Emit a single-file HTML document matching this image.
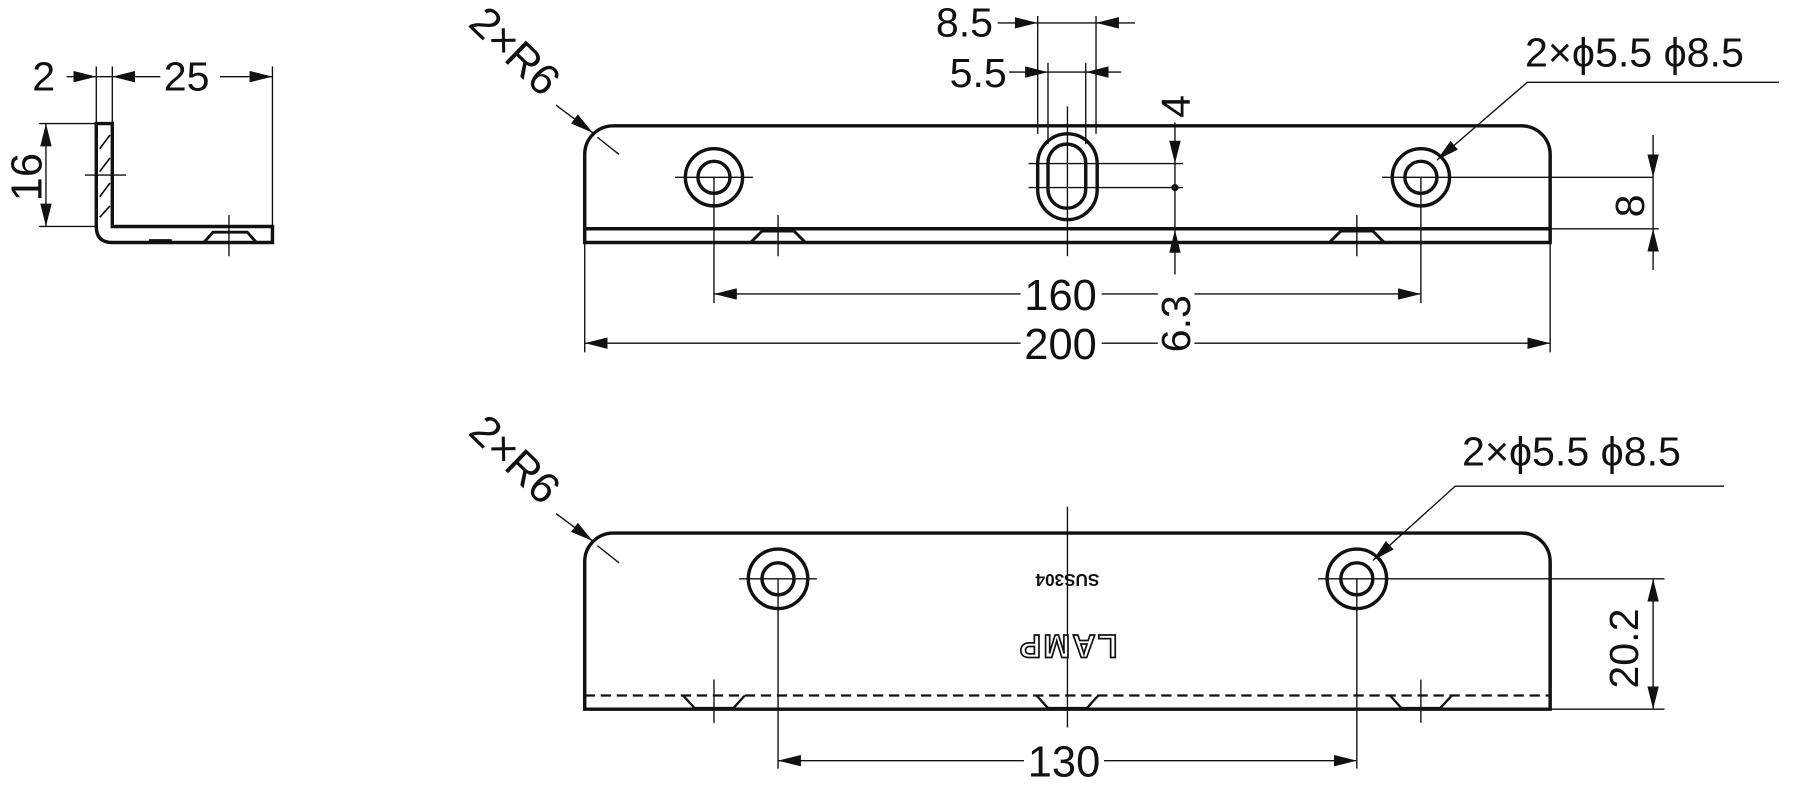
<!DOCTYPE html>
<html><head><meta charset="utf-8"><style>
html,body{margin:0;padding:0;background:#fff;}
svg{display:block}
text{font-family:"Liberation Sans",sans-serif;fill:#111;stroke:none;}
</style></head><body>
<svg width="1794" height="803" viewBox="0 0 1568 702" xmlns="http://www.w3.org/2000/svg">
<defs>
<marker id="a" markerUnits="userSpaceOnUse" markerWidth="20" markerHeight="10" refX="20" refY="5" orient="auto-start-reverse"><path d="M0,0 L20,5 L0,10 z" fill="#111" stroke="none"/></marker>
</defs>
<g fill="none" stroke="#111" stroke-width="1.2">

<!-- ===== LEFT VIEW ===== -->
<path d="M84,108 H98 V198 H238 V212 H98 Q84,212 84,198 Z" stroke-width="3" fill="#fff"/>
<path d="M87,130 L96,118 M87,150 L96,138 M87,172 L96,160 M87,190 L96,180" stroke-width="1.5"/>
<path d="M74,153 H110"/>
<path d="M178,212 L186,203 H216 L224,212" stroke-width="2.5"/>
<path d="M130,210 H150" stroke-width="2"/>
<path d="M200,188 V224"/>
<path d="M84,58 V108 M98,58 V108 M238,58 V212"/>
<path d="M58,67 H84" marker-end="url(#a)"/>
<path d="M84,67 H98"/>
<path d="M140,67 H98" marker-end="url(#a)"/>
<path d="M192,67 H238" marker-end="url(#a)"/>
<text x="28" y="79" font-size="36">2</text>
<text x="143" y="79" font-size="36">25</text>
<path d="M34,108 H84 M34,198 H84"/>
<path d="M40,153 V108" marker-end="url(#a)"/>
<path d="M40,153 V198" marker-end="url(#a)"/>
<text x="0" y="0" font-size="38" transform="translate(36,176) rotate(-90)">16</text>

<!-- ===== TOP VIEW ===== -->
<path d="M511,212 V135 A25,25 0 0 1 536,110 H1330 A25,25 0 0 1 1355,135 V212 Z" stroke-width="3" fill="#fff"/>
<path d="M511,200 H1355" stroke-width="3"/>
<path d="M656,212 L666,202 H694 L704,212" stroke-width="2.5"/>
<path d="M1162,212 L1172,202 H1200 L1210,212" stroke-width="2.5"/>
<path d="M680,188 V224 M1186,188 V224"/>
<circle cx="624" cy="155" r="25" stroke-width="3"/>
<circle cx="624" cy="155" r="14" stroke-width="3"/>
<circle cx="1242" cy="155" r="25" stroke-width="3"/>
<circle cx="1242" cy="155" r="14" stroke-width="3"/>
<path d="M590,155 H658 M1208,155 H1445"/>
<rect x="907" y="117" width="52" height="75" rx="26" ry="26" stroke-width="3"/>
<rect x="916" y="126" width="33" height="56" rx="16.5" ry="16.5" stroke-width="3"/>
<path d="M933,93 V224"/>
<path d="M899,143 H1034 M899,164 H1034"/>
<circle cx="1027" cy="164" r="2.5" fill="#111"/>
<path d="M1027,107 V143" marker-end="url(#a)"/>
<path d="M1027,164 V143"/>
<path d="M1027,164 V201"/>
<path d="M1027,240 V201" marker-end="url(#a)"/>
<text x="0" y="0" font-size="36" transform="translate(1040,103) rotate(-90)">4</text>
<text x="0" y="0" font-size="36" transform="translate(1040,308) rotate(-90)">6.3</text>
<path d="M907,14 V117 M958,14 V117 M916,55 V126 M949,55 V126"/>
<path d="M872,20 H907" marker-end="url(#a)"/>
<path d="M907,20 H958"/>
<path d="M992,20 H958" marker-end="url(#a)"/>
<path d="M882,63 H916" marker-end="url(#a)"/>
<path d="M916,63 H949"/>
<path d="M980,63 H949" marker-end="url(#a)"/>
<text x="868" y="32" font-size="36" text-anchor="end">8.5</text>
<text x="880" y="76" font-size="36" text-anchor="end">5.5</text>
<path d="M1355,200 H1450"/>
<path d="M1445,118 V155" marker-end="url(#a)"/>
<path d="M1445,155 V200"/>
<path d="M1445,236 V200" marker-end="url(#a)"/>
<text x="0" y="0" font-size="36" transform="translate(1437,190) rotate(-90)">8</text>
<path d="M1555,72 H1335 L1256,140" marker-end="url(#a)"/>
<text x="1333" y="58" font-size="36">2×ϕ5.5 ϕ8.5</text>
<path d="M486,92 L518,116" marker-end="url(#a)"/>
<path d="M522,120 L541,135"/>
<text x="0" y="0" font-size="38" transform="translate(408,22) rotate(44)">2×R6</text>
<path d="M624,155 V265 M1242,155 V265 M511,212 V308 M1355,212 V308"/>
<path d="M892,257 H624" marker-end="url(#a)"/>
<path d="M963,257 H1012 M1044,257 H1242" marker-end="url(#a)"/>
<path d="M892,300 H511" marker-end="url(#a)"/>
<path d="M963,300 H1012 M1044,300 H1355" marker-end="url(#a)"/>
<text x="927" y="271" font-size="38" text-anchor="middle">160</text>
<text x="927" y="314" font-size="38" text-anchor="middle">200</text>

<!-- ===== BOTTOM VIEW ===== -->
<path d="M511,620 V491 A25,25 0 0 1 536,466 H1330 A25,25 0 0 1 1355,491 V620 Z" stroke-width="3" fill="#fff"/>
<path d="M511,608 H1355" stroke-width="2" stroke-dasharray="9,5"/>
<path d="M597,608 L607,619 H641 L651,608" stroke-width="2"/>
<path d="M906,608 L916,619 H950 L960,608" stroke-width="2"/>
<path d="M1215,608 L1225,619 H1259 L1269,608" stroke-width="2"/>
<path d="M624,594 V632 M1242,594 V632"/>
<circle cx="680" cy="506" r="26" stroke-width="3"/>
<circle cx="680" cy="506" r="14" stroke-width="3"/>
<circle cx="1186" cy="506" r="26" stroke-width="3"/>
<circle cx="1186" cy="506" r="14" stroke-width="3"/>
<path d="M646,506 H714 M1152,506 H1455 M933,443 V636"/>
<path d="M1355,620 H1455"/>
<path d="M1445,563 V506" marker-end="url(#a)"/>
<path d="M1445,563 V620" marker-end="url(#a)"/>
<text x="0" y="0" font-size="36" transform="translate(1432,602) rotate(-90)">20.2</text>
<path d="M680,506 V672 M1186,506 V672"/>
<path d="M895,665 H680" marker-end="url(#a)"/>
<path d="M965,665 H1186" marker-end="url(#a)"/>
<text x="930" y="679" font-size="38" text-anchor="middle">130</text>
<path d="M1507,425 H1272 L1200,490" marker-end="url(#a)"/>
<text x="1278" y="407" font-size="36">2×ϕ5.5 ϕ8.5</text>
<path d="M486,449 L518,473" marker-end="url(#a)"/>
<path d="M522,477 L541,492"/>
<text x="0" y="0" font-size="38" transform="translate(408,379) rotate(44)">2×R6</text>
</g>
<text x="0" y="0" font-size="15" font-weight="bold" text-anchor="middle" transform="translate(933,502) rotate(180)">SUS304</text>
<text x="0" y="0" font-size="28" font-weight="bold" text-anchor="middle" transform="translate(933,555) rotate(180)" style="fill:#fff;stroke:#111;stroke-width:1.5;letter-spacing:2px">LAMP</text>
</svg>
</body></html>
